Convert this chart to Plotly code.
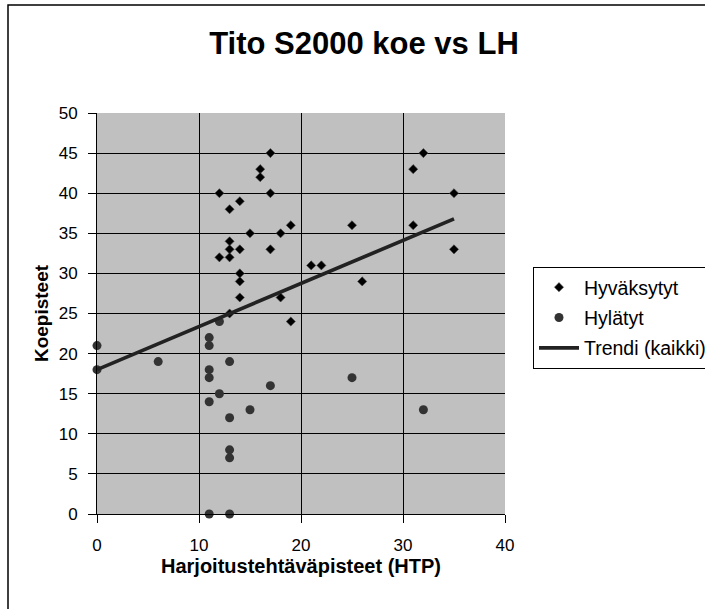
import plotly.graph_objects as go

# Hyväksytyt (accepted)
hyv_x = [17, 16, 16, 12, 17, 14, 13, 15, 18, 19, 13, 13, 14, 17, 12, 13, 14, 14, 14, 18,
         21, 22, 25, 26, 13, 19, 32, 31, 35, 31, 35]
hyv_y = [45, 43, 42, 40, 40, 39, 38, 35, 35, 36, 34, 33, 33, 33, 32, 32, 30, 29, 27, 27,
         31, 31, 36, 29, 25, 24, 45, 43, 40, 36, 33]

# Hylätyt (rejected)
hyl_x = [0, 0, 6, 12, 11, 11, 13, 11, 11, 17, 12, 11, 15, 13, 13, 13, 11, 13, 25, 32]
hyl_y = [21, 18, 19, 24, 22, 21, 19, 18, 17, 16, 15, 14, 13, 12, 8, 7, 0, 0, 17, 13]

# Trendi (kaikki) - endpoints
trend_x = [0, 35]
trend_y = [18.0, 36.8]

x_ticks = [0, 10, 20, 30, 40]
y_ticks = [0, 5, 10, 15, 20, 25, 30, 35, 40, 45, 50]

FONT = "Arial, Liberation Sans, sans-serif"

fig = go.Figure()
fig.add_trace(go.Scatter(
    x=hyv_x, y=hyv_y, mode="markers", name="Hyväksytyt", legendgroup="a",
    marker=dict(symbol="diamond", size=7, color="black", line=dict(width=0.6, color="#444")),
    cliponaxis=False))
fig.add_trace(go.Scatter(
    x=hyl_x, y=hyl_y, mode="markers", name="Hylätyt", legendgroup="b",
    marker=dict(symbol="circle", size=9, color="#333333"),
    cliponaxis=False))
fig.add_trace(go.Scatter(
    x=trend_x, y=trend_y, mode="lines", name="Trendi (kaikki)", legendgroup="c",
    line=dict(color="#222222", width=3.7)))

L, R, T, B = 97, 200, 113, 95
W, H = 705, 609
pw, ph = W - L - R, H - T - B

def px2x(px):
    return (px - L) / pw

def py2y(py):
    return (H - B - py) / ph

fig.update_layout(
    width=W, height=H,
    margin=dict(l=L, r=R, t=T, b=B, autoexpand=False),
    paper_bgcolor="white",
    plot_bgcolor="#C0C0C0",
    font=dict(family=FONT, color="black", size=17),
    title=dict(text="<b>Tito S2000 koe vs LH</b>", x=364 / W, xanchor="center",
               y=1 - 43 / H, yanchor="middle", xref="container", yref="container",
               font=dict(size=31, family=FONT, color="black")),
    xaxis=dict(range=[0, 40], tickvals=x_ticks, ticktext=[str(v) for v in x_ticks],
               showgrid=True, gridcolor="black", gridwidth=1,
               showline=True, linecolor="black", linewidth=1,
               ticks="outside", ticklen=8, tickcolor="black",
               ticklabelstandoff=8, zeroline=False,
               title=dict(text="<b>Harjoitustehtäväpisteet (HTP)</b>",
                          font=dict(size=20, family=FONT), standoff=4)),
    yaxis=dict(range=[0, 50], tickvals=y_ticks, ticktext=[str(v) for v in y_ticks],
               showgrid=True, gridcolor="black", gridwidth=1,
               showline=True, linecolor="black", linewidth=1,
               ticks="outside", ticklen=8, tickcolor="black",
               ticklabelstandoff=7, zeroline=False,
               title=dict(text="<b>Koepisteet</b>",
                          font=dict(size=19, family=FONT), standoff=5)),
    legend=dict(x=px2x(533), y=py2y(267), xanchor="left", yanchor="top",
                bgcolor="white", bordercolor="black", borderwidth=1,
                font=dict(size=19.5, family=FONT), traceorder="grouped",
                tracegroupgap=2, itemwidth=40),
    shapes=[dict(type="rect", xref="paper", yref="paper",
                 x0=px2x(8), x1=px2x(730), y0=py2y(630), y1=py2y(5),
                 line=dict(color="black", width=1.5), fillcolor="rgba(0,0,0,0)",
                 layer="below")],
    showlegend=True,
)

fig.write_html(
    "out.html",
    config={"displayModeBar": False},
    post_script="document.body.style.margin='0';document.body.style.overflow='hidden';",
)
